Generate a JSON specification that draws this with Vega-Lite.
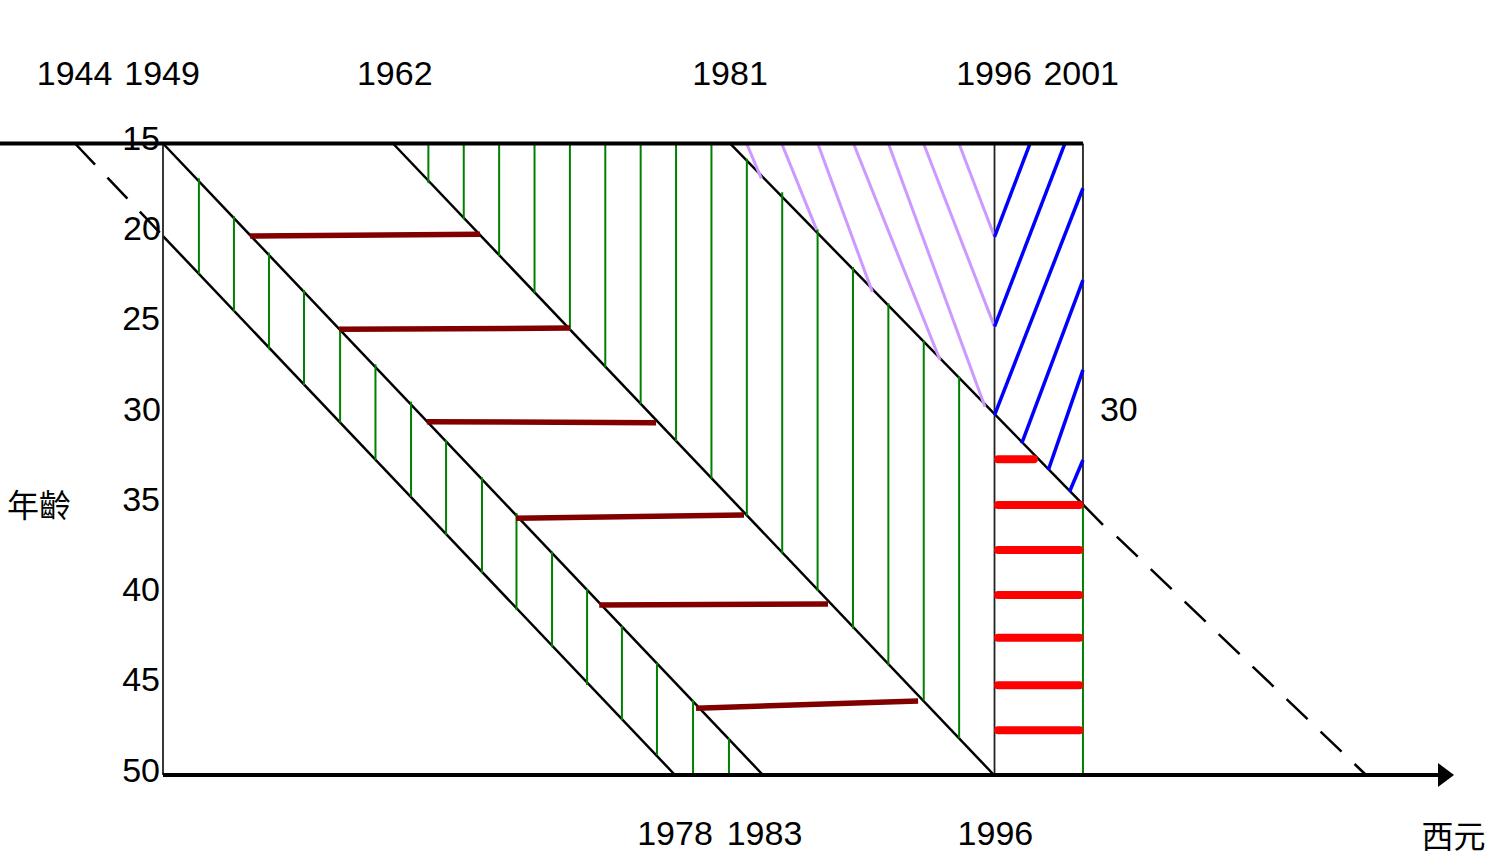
{
  "$schema": "https://vega.github.io/schema/vega-lite/v6.json",
  "width": 1485,
  "height": 868,
  "autosize": {"type": "none"},
  "padding": 0,
  "background": "white",
  "config": {"view": {"stroke": null}},
  "datasets": {
    "cohortSolid": [
      {"year": 1949, "age": 20.13, "year2": 1977.94, "age2": 50},
      {"year": 1949, "age": 15, "year2": 1982.91, "age2": 50},
      {"year": 1962.0, "age": 15, "year2": 1995.97, "age2": 50},
      {"year": 1981.05, "age": 15, "year2": 2002.13, "age2": 36.14}
    ],
    "cohortDashed": [
      {"year": 1944.03, "age": 15, "year2": 1949, "age2": 20.13},
      {"year": 2002.91, "age": 36.79, "year2": 2017.0, "age2": 50}
    ],
    "verticals": [
      {"year": 1949, "age": 15, "year2": 1949, "age2": 50},
      {"year": 1996, "age": 15, "year2": 1996, "age2": 50},
      {"year": 2001, "age": 15, "year2": 2001, "age2": 35.03}
    ],
    "greenHatch": [
      {"year": 1951.03, "age": 16.93, "age2": 22.23},
      {"year": 1953.01, "age": 19.02, "age2": 24.32},
      {"year": 1954.99, "age": 21.05, "age2": 26.41},
      {"year": 1956.97, "age": 23.12, "age2": 28.39},
      {"year": 1959.01, "age": 25.15, "age2": 30.47},
      {"year": 1961.01, "age": 27.24, "age2": 32.54},
      {"year": 1963.02, "age": 29.31, "age2": 34.58},
      {"year": 1965.0, "age": 31.43, "age2": 36.7},
      {"year": 1967.03, "age": 33.5, "age2": 38.82},
      {"year": 1968.98, "age": 35.48, "age2": 40.86},
      {"year": 1970.99, "age": 37.62, "age2": 42.92},
      {"year": 1972.97, "age": 39.69, "age2": 45.01},
      {"year": 1974.94, "age": 41.74, "age2": 46.95},
      {"year": 1976.92, "age": 43.78, "age2": 48.89},
      {"year": 1978.96, "age": 45.84, "age2": 50},
      {"year": 1980.99, "age": 47.95, "age2": 50},
      {"year": 1964, "age": 15, "age2": 17.2},
      {"year": 1966, "age": 15, "age2": 19.2},
      {"year": 1968, "age": 15, "age2": 21.25},
      {"year": 1970, "age": 15, "age2": 23.3},
      {"year": 1972, "age": 15, "age2": 25.35},
      {"year": 1974, "age": 15, "age2": 27.4},
      {"year": 1976, "age": 15, "age2": 29.45},
      {"year": 1978, "age": 15, "age2": 31.5},
      {"year": 1980, "age": 15, "age2": 33.58},
      {"year": 1982, "age": 15.85, "age2": 35.62},
      {"year": 1984, "age": 17.7, "age2": 37.72},
      {"year": 1986, "age": 19.75, "age2": 39.8},
      {"year": 1988, "age": 21.85, "age2": 41.88},
      {"year": 1990, "age": 23.85, "age2": 43.92},
      {"year": 1992, "age": 25.9, "age2": 45.87},
      {"year": 1994, "age": 27.9, "age2": 47.96},
      {"year": 2001, "age": 35.03, "age2": 50}
    ],
    "maroon": [
      {"year": 1953.92, "age": 20.13, "year2": 1966.92, "age2": 20.03},
      {"year": 1958.97, "age": 25.3, "year2": 1972.01, "age2": 25.23},
      {"year": 1963.91, "age": 30.42, "year2": 1976.87, "age2": 30.48},
      {"year": 1968.95, "age": 35.77, "year2": 1981.84, "age2": 35.59},
      {"year": 1973.66, "age": 40.58, "year2": 1986.59, "age2": 40.52},
      {"year": 1979.13, "age": 46.3, "year2": 1991.68, "age2": 45.9}
    ],
    "purple": [
      {"year": 1981.99, "age": 15, "year2": 1982.82, "age2": 16.93},
      {"year": 1983.97, "age": 15, "year2": 1985.95, "age2": 19.79},
      {"year": 1986.01, "age": 15, "year2": 1989.09, "age2": 23.21},
      {"year": 1988.03, "age": 15, "year2": 1992.92, "age2": 27.0},
      {"year": 1990.0, "age": 15, "year2": 1995.46, "age2": 29.59},
      {"year": 1991.99, "age": 15, "year2": 1996, "age2": 25.15},
      {"year": 1993.99, "age": 15, "year2": 1996, "age2": 20.17}
    ],
    "blue": [
      {"year": 1996, "age": 20.17, "year2": 1998.01, "age2": 15},
      {"year": 1996, "age": 25.15, "year2": 1999.98, "age2": 15},
      {"year": 1996, "age": 30.05, "year2": 2001, "age2": 17.48},
      {"year": 1997.54, "age": 31.62, "year2": 2001, "age2": 22.57},
      {"year": 1999.04, "age": 33.1, "year2": 2001, "age2": 27.55},
      {"year": 2000.24, "age": 34.3, "year2": 2001, "age2": 32.54}
    ],
    "red": [
      {"year": 1996.2, "year2": 1998.23, "age": 32.5},
      {"year": 1996.2, "year2": 2000.8, "age": 35.03},
      {"year": 1996.2, "year2": 2000.8, "age": 37.53},
      {"year": 1996.2, "year2": 2000.8, "age": 40.02},
      {"year": 1996.2, "year2": 2000.8, "age": 42.39},
      {"year": 1996.2, "year2": 2000.8, "age": 45.03},
      {"year": 1996.2, "year2": 2000.8, "age": 47.52}
    ],
    "frame": [
      {"year": 1939.787, "age": 15, "year2": 2001, "age2": 15},
      {"year": 1949, "age": 50, "year2": 2021.2, "age2": 50}
    ],
    "arrow": [
      {"year": 2021.52, "age": 50}
    ],
    "yearLabels": [
      {"label": "1944", "year": 1944.0, "age": 11.2},
      {"label": "1949", "year": 1948.95, "age": 11.2},
      {"label": "1962", "year": 1962.1, "age": 11.2},
      {"label": "1981", "year": 1981.05, "age": 11.2},
      {"label": "1996", "year": 1995.97, "age": 11.2},
      {"label": "2001", "year": 2000.9, "age": 11.2},
      {"label": "1978", "year": 1977.94, "age": 53.33},
      {"label": "1983", "year": 1983.0, "age": 53.33},
      {"label": "1996", "year": 1996.05, "age": 53.33}
    ],
    "ageLabels": [
      {"label": "15", "year": 1948.83, "age": 14.8},
      {"label": "20", "year": 1948.88, "age": 19.8},
      {"label": "25", "year": 1948.83, "age": 24.8},
      {"label": "30", "year": 1948.88, "age": 29.8},
      {"label": "35", "year": 1948.83, "age": 34.8},
      {"label": "40", "year": 1948.83, "age": 39.8},
      {"label": "45", "year": 1948.83, "age": 44.8},
      {"label": "50", "year": 1948.83, "age": 49.85}
    ],
    "sideLabels": [
      {"label": "30", "year": 2001.96, "age": 29.83}
    ],
    "cjkLabels": [
      {"label": "年齡", "year": 1941.99, "age": 35.15},
      {"label": "西元", "year": 2021.95, "age": 53.49}
    ]
  },
  "encoding": {
    "x": {"field": "year", "type": "quantitative", "scale": {"domain": [1939.787, 2023.724], "nice": false, "zero": false}, "axis": null},
    "y": {"field": "age", "type": "quantitative", "scale": {"domain": [7.047, 55.154], "nice": false, "zero": false, "reverse": true}, "axis": null}
  },
  "layer": [
    {
      "data": {"name": "cohortSolid"},
      "mark": {"type": "rule", "color": "black", "strokeWidth": 2.5},
      "encoding": {"x2": {"field": "year2"}, "y2": {"field": "age2"}}
    },
    {
      "data": {"name": "cohortDashed"},
      "mark": {"type": "rule", "color": "black", "strokeWidth": 2.5, "strokeDash": [29, 18]},
      "encoding": {"x2": {"field": "year2"}, "y2": {"field": "age2"}}
    },
    {
      "data": {"name": "verticals"},
      "mark": {"type": "rule", "color": "#222222", "strokeWidth": 1.8},
      "encoding": {"x2": {"field": "year2"}, "y2": {"field": "age2"}}
    },
    {
      "data": {"name": "greenHatch"},
      "mark": {"type": "rule", "color": "#008000", "strokeWidth": 2},
      "encoding": {"y2": {"field": "age2"}}
    },
    {
      "data": {"name": "purple"},
      "mark": {"type": "rule", "color": "#cc99ff", "strokeWidth": 3},
      "encoding": {"x2": {"field": "year2"}, "y2": {"field": "age2"}}
    },
    {
      "data": {"name": "blue"},
      "mark": {"type": "rule", "color": "#0000ff", "strokeWidth": 3.5},
      "encoding": {"x2": {"field": "year2"}, "y2": {"field": "age2"}}
    },
    {
      "data": {"name": "maroon"},
      "mark": {"type": "rule", "color": "#800000", "strokeWidth": 5.5},
      "encoding": {"x2": {"field": "year2"}, "y2": {"field": "age2"}}
    },
    {
      "data": {"name": "red"},
      "mark": {"type": "rule", "color": "#ff0000", "strokeWidth": 8, "strokeCap": "round"},
      "encoding": {"x2": {"field": "year2"}}
    },
    {
      "data": {"name": "frame"},
      "mark": {"type": "rule", "color": "black", "strokeWidth": 4},
      "encoding": {"x2": {"field": "year2"}, "y2": {"field": "age2"}}
    },
    {
      "data": {"name": "arrow"},
      "mark": {"type": "point", "shape": "M-0.667,-1L0.667,0L-0.667,1Z", "size": 576, "filled": true, "color": "black", "opacity": 1, "strokeWidth": 0}
    },
    {
      "data": {"name": "yearLabels"},
      "mark": {"type": "text", "align": "center", "baseline": "middle", "font": "Liberation Sans", "fontSize": 34, "color": "black"},
      "encoding": {"text": {"field": "label"}}
    },
    {
      "data": {"name": "ageLabels"},
      "mark": {"type": "text", "align": "right", "baseline": "middle", "font": "Liberation Sans", "fontSize": 34, "color": "black"},
      "encoding": {"text": {"field": "label"}}
    },
    {
      "data": {"name": "sideLabels"},
      "mark": {"type": "text", "align": "left", "baseline": "middle", "font": "Liberation Sans", "fontSize": 34, "color": "black"},
      "encoding": {"text": {"field": "label"}}
    },
    {
      "data": {"name": "cjkLabels"},
      "mark": {"type": "text", "align": "center", "baseline": "middle", "font": "Noto Sans CJK TC", "fontSize": 32, "color": "black"},
      "encoding": {"text": {"field": "label"}}
    }
  ]
}
